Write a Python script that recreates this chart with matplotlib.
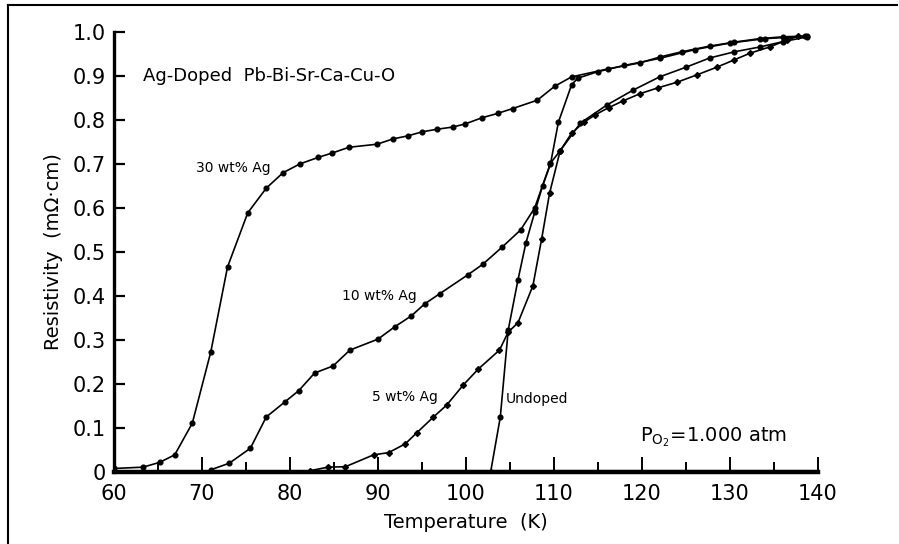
import matplotlib
matplotlib.use("Agg")
import matplotlib.pyplot as plt
from matplotlib.lines import Line2D
from matplotlib.ticker import MultipleLocator

# 30 wt% Ag
t_30 = [60.0, 63.3, 65.2, 66.9, 68.9, 71.0, 72.9, 75.2, 77.3, 79.2, 81.1, 83.2, 84.8,
        86.7, 89.9, 91.7, 93.4, 95.0, 96.7, 98.5, 99.9, 101.8, 103.6, 105.3, 108.1,
        110.1, 112.0, 116.1, 119.8, 122.0, 124.5, 127.7, 130.5, 133.4, 136.0, 138.8]
r_30 = [0.008, 0.011, 0.022, 0.039, 0.111, 0.273, 0.466, 0.589, 0.645, 0.680, 0.700,
        0.715, 0.725, 0.738, 0.745, 0.757, 0.764, 0.773, 0.779, 0.784, 0.791, 0.805,
        0.815, 0.826, 0.845, 0.877, 0.898, 0.916, 0.930, 0.943, 0.955, 0.968, 0.977,
        0.985, 0.989, 0.991]

# 10 wt% Ag
t_10 = [71.0, 73.1, 75.5, 77.3, 79.4, 81.0, 82.8, 84.9, 86.8, 90.0, 91.9, 93.8, 95.3,
        97.0, 100.2, 101.9, 104.1, 106.2, 107.8, 109.6, 110.7, 113.0, 116.0, 119.0,
        122.0, 125.0, 127.7, 130.5, 133.4, 136.0, 138.8]
r_10 = [0.005, 0.020, 0.054, 0.125, 0.159, 0.185, 0.225, 0.241, 0.277, 0.302, 0.330,
        0.355, 0.382, 0.405, 0.448, 0.472, 0.511, 0.550, 0.600, 0.702, 0.730, 0.793,
        0.834, 0.868, 0.898, 0.920, 0.941, 0.955, 0.966, 0.978, 0.989]

# 5 wt% Ag
t_5 = [82.3, 84.3, 86.3, 89.5, 91.2, 93.1, 94.4, 96.3, 97.8, 99.7, 101.4, 103.8, 104.8,
       105.9, 107.6, 108.6, 109.5, 110.7, 112.0, 113.4, 114.7, 116.2, 117.8, 119.8,
       121.8, 124.0, 126.3, 128.5, 130.4, 132.3, 134.5, 136.5, 137.7]
r_5 = [0.003, 0.011, 0.012, 0.039, 0.044, 0.064, 0.089, 0.125, 0.152, 0.198, 0.234,
       0.277, 0.318, 0.339, 0.423, 0.530, 0.634, 0.730, 0.770, 0.795, 0.812, 0.828,
       0.843, 0.860, 0.873, 0.886, 0.903, 0.920, 0.936, 0.952, 0.966, 0.982, 0.990]
t_5_base = [82.3, 139.5]
r_5_base = [0.005, 0.005]

# Undoped
t_un = [102.8, 103.9, 104.8, 105.9, 106.8, 107.8, 108.7, 109.6, 110.5, 112.0, 112.7,
        115.0, 118.0, 122.0, 126.0, 130.0, 134.0, 138.5]
r_un = [0.000, 0.125, 0.323, 0.436, 0.520, 0.590, 0.650, 0.700, 0.795, 0.880, 0.895,
        0.910, 0.924, 0.940, 0.960, 0.975, 0.985, 0.990]

x_ticks = [60, 70, 80, 90, 100, 110, 120, 130, 140]
y_ticks = [0, 0.1, 0.2, 0.3, 0.4, 0.5, 0.6, 0.7, 0.8, 0.9, 1.0]
y_tick_labels = ["0", "0.1", "0.2", "0.3", "0.4", "0.5", "0.6", "0.7", "0.8", "0.9", "1.0"]

W, H = 899, 544
fig = plt.figure(figsize=(W / 100, H / 100), dpi=100)
ax = fig.add_axes([114 / W, (H - 472) / H, (818 - 114) / W, (472 - 32) / H])

line_kw = dict(color="black", lw=1.2, markersize=3.4)
ax.plot(t_30, r_30, marker="o", **line_kw)
ax.plot(t_10, r_10, marker="o", **line_kw)
ax.plot(t_5, r_5, marker="D", **dict(line_kw, markersize=3.0))
ax.plot(t_5_base, r_5_base, color="black", lw=0.8)
ax.plot(t_un, r_un, marker="o", **line_kw)

ax.set_xlim(60, 140)
ax.set_ylim(0, 1.0)
ax.set_xticks(x_ticks)
ax.xaxis.set_minor_locator(MultipleLocator(5))
ax.set_yticks(y_ticks)
ax.set_yticklabels(y_tick_labels)

for side in ["top", "right"]:
    ax.spines[side].set_visible(False)
ax.spines["left"].set_linewidth(2.4)
ax.spines["bottom"].set_linewidth(3.2)

ax.tick_params(axis="x", which="major", direction="in", length=11, width=1.4,
               labelsize=15, pad=9)
ax.tick_params(axis="x", which="minor", direction="in", length=7, width=1.4)
ax.tick_params(axis="y", which="major", direction="in", length=8, width=1.6,
               labelsize=15, pad=6)

ax.set_xlabel("Temperature  (K)", fontsize=14, labelpad=6)
ax.set_ylabel("Resistivity  (m\u03a9\u00b7cm)", fontsize=14, labelpad=7)

ax.text(63.3, 0.9, "Ag-Doped  Pb-Bi-Sr-Ca-Cu-O", fontsize=13, va="center", ha="left")
ax.text(77.8, 0.69, "30 wt% Ag", fontsize=10, va="center", ha="right")
ax.text(94.4, 0.40, "10 wt% Ag", fontsize=10, va="center", ha="right")
ax.text(96.8, 0.17, "5 wt% Ag", fontsize=10, va="center", ha="right")
ax.text(104.5, 0.165, "Undoped", fontsize=10, va="center", ha="left")
ax.text(119.8, 0.08, "P$_{\\mathregular{O_2}}$=1.000 atm", fontsize=14,
        va="center", ha="left")

# frame lines of the scanned page (left and top)
fig.add_artist(Line2D([8 / W, 8 / W], [0, 1 - 5 / H], color="black", lw=1.5,
                      transform=fig.transFigure))
fig.add_artist(Line2D([8 / W, 897 / W], [1 - 5 / H, 1 - 5 / H], color="black",
                      lw=1.5, transform=fig.transFigure))

fig.savefig("out.png", dpi=100)
